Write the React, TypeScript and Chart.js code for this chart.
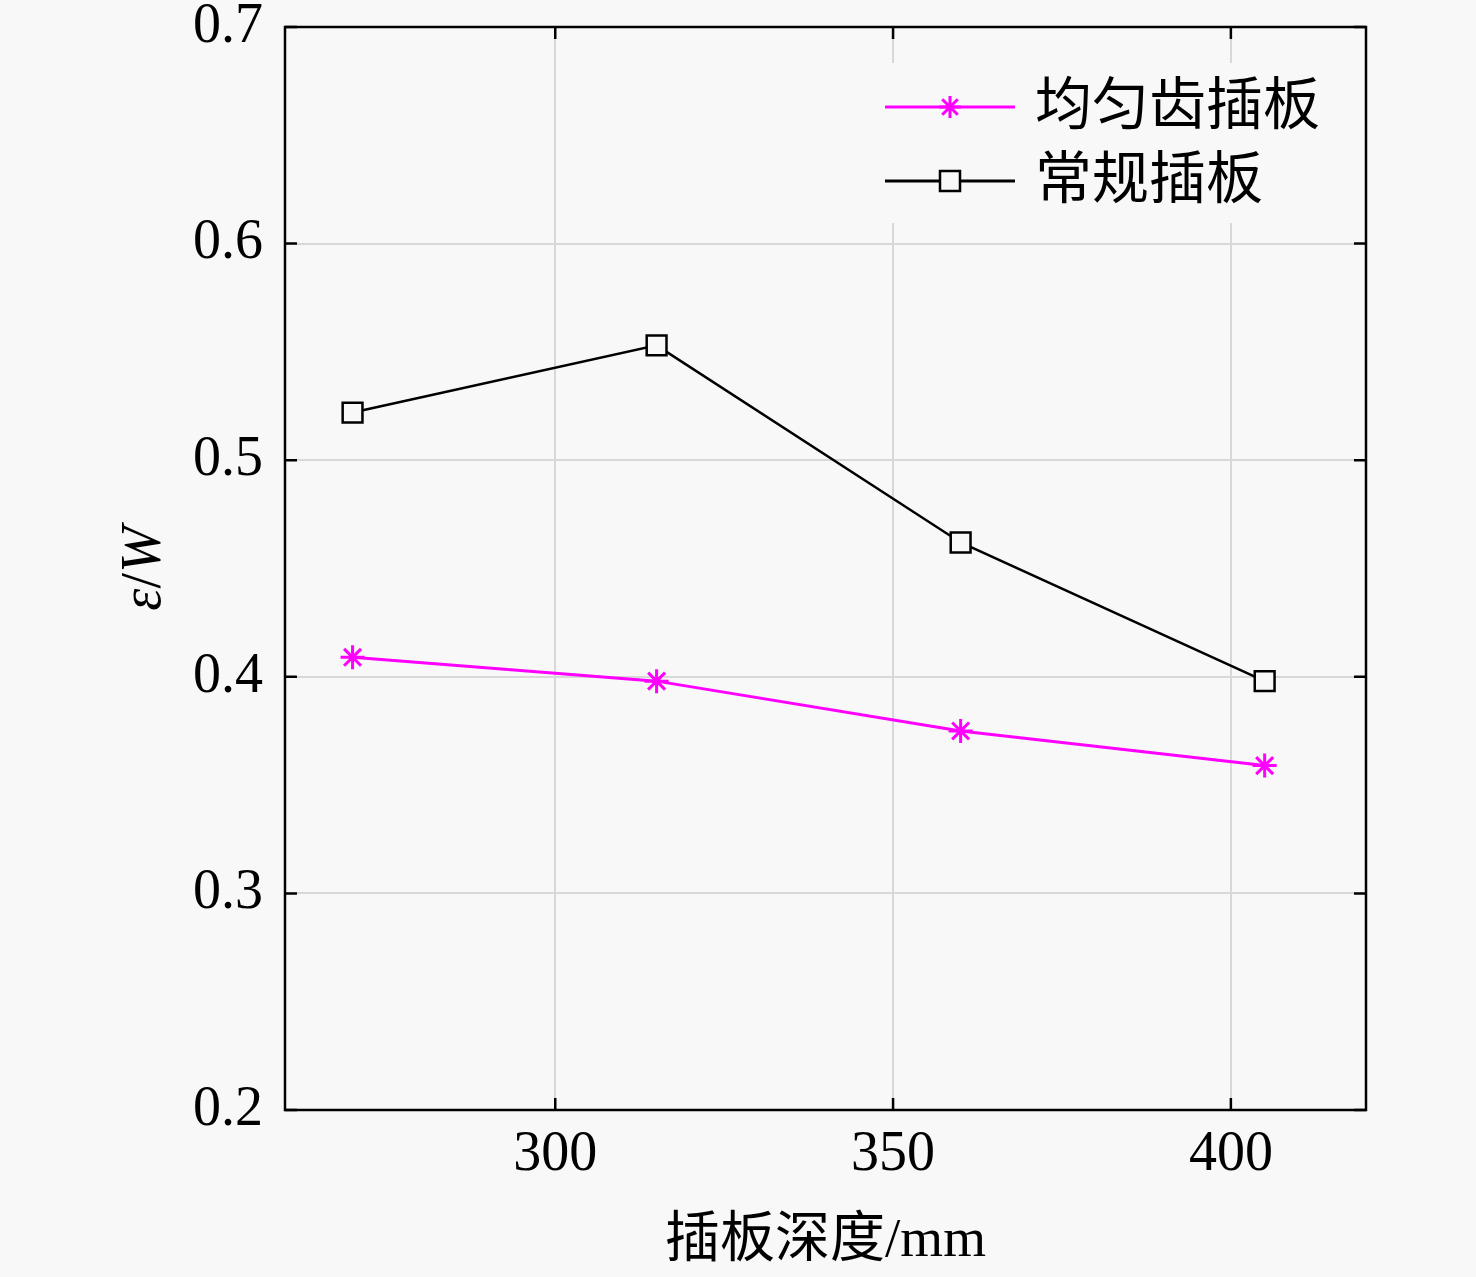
import { useEffect, useRef } from 'react';
import { Chart, registerables } from 'chart.js';

Chart.register(...registerables);

// plate depth (mm) and ε/W for the two plate types
const depths = [270, 315, 360, 405];
const uniformTooth = [0.409, 0.398, 0.375, 0.359];
const regularPlate = [0.522, 0.553, 0.462, 0.398];
const seriesNames = ['均匀齿插板', '常规插板'];
const xTicks = [300, 350, 400];
const yTicks = [0.2, 0.3, 0.4, 0.5, 0.6, 0.7];
const xTitle = '插板深度/mm';

const SERIF = "'Liberation Serif', 'Times New Roman', 'Noto Sans CJK SC', serif";
const BG = '#f8f8f8';

const framePlugin = {
    id: 'frame',
    afterDatasetsDraw(chart: any) {
        const { ctx, chartArea, scales } = chart;
        const { left, right, top, bottom } = chartArea;
        const x = scales.x;
        const y = scales.y;
        ctx.save();

        // legend box (hides grid behind it)
        ctx.fillStyle = BG;
        ctx.fillRect(868, 63, 470, 160);

        // inward ticks
        ctx.strokeStyle = '#000';
        ctx.lineWidth = 2.5;
        ctx.beginPath();
        xTicks.forEach((v) => {
            const px = x.getPixelForValue(v);
            ctx.moveTo(px, bottom);
            ctx.lineTo(px, bottom - 12);
            ctx.moveTo(px, top);
            ctx.lineTo(px, top + 12);
        });
        yTicks.forEach((v) => {
            const py = y.getPixelForValue(v);
            ctx.moveTo(left, py);
            ctx.lineTo(left + 12, py);
            ctx.moveTo(right, py);
            ctx.lineTo(right - 12, py);
        });
        ctx.stroke();
        ctx.lineWidth = 2.5;
        ctx.strokeRect(left, top, right - left, bottom - top);

        // legend
        const rows = [
            { name: seriesNames[0], color: '#ff00ff', style: 'star', yy: 107 },
            { name: seriesNames[1], color: '#000000', style: 'rect', yy: 181 },
        ];
        rows.forEach((r) => {
            ctx.strokeStyle = r.color;
            ctx.lineWidth = 3;
            ctx.beginPath();
            ctx.moveTo(885, r.yy);
            ctx.lineTo(1015, r.yy);
            ctx.stroke();
            if (r.style === 'star') {
                const s = 11;
                ctx.beginPath();
                for (let i = 0; i < 4; i++) {
                    const a = (i * Math.PI) / 4;
                    ctx.moveTo(950 - s * Math.cos(a), r.yy - s * Math.sin(a));
                    ctx.lineTo(950 + s * Math.cos(a), r.yy + s * Math.sin(a));
                }
                ctx.stroke();
            } else {
                ctx.lineWidth = 2.5;
                ctx.fillStyle = BG;
                ctx.fillRect(940, r.yy - 10, 20, 20);
                ctx.strokeRect(940, r.yy - 10, 20, 20);
            }
            ctx.fillStyle = '#000';
            ctx.font = `57px ${SERIF}`;
            ctx.textBaseline = 'middle';
            ctx.textAlign = 'left';
            ctx.fillText(r.name, 1035, r.yy + 2);
        });

        // y title: ε/W with italic letters
        ctx.translate(145, (top + bottom) / 2);
        ctx.rotate(-Math.PI / 2);
        ctx.fillStyle = '#000';
        ctx.textBaseline = 'middle';
        ctx.textAlign = 'left';
        const parts = [
            { t: 'ε', f: `italic 56px ${SERIF}` },
            { t: '/', f: `56px ${SERIF}` },
            { t: 'W', f: `italic 56px ${SERIF}` },
        ];
        let total = 0;
        parts.forEach((p) => {
            ctx.font = p.f;
            total += ctx.measureText(p.t).width;
        });
        let cx = -total / 2;
        parts.forEach((p) => {
            ctx.font = p.f;
            ctx.fillText(p.t, cx, 0);
            cx += ctx.measureText(p.t).width;
        });
        ctx.restore();
    },
};

const DepthChart = () => {
    const canvasRef = useRef<HTMLCanvasElement>(null);

    useEffect(() => {
        const canvas = canvasRef.current;
        if (!canvas) return;
        const ctx = canvas.getContext('2d');
        if (!ctx) return;

        const chart = new Chart(ctx, {
            type: 'line',
            data: {
                datasets: [
                    {
                        label: seriesNames[0],
                        data: depths.map((d, i) => ({ x: d, y: uniformTooth[i] })),
                        borderColor: '#ff00ff',
                        backgroundColor: '#ff00ff',
                        borderWidth: 3,
                        pointStyle: 'star',
                        pointRadius: 12,
                        pointBorderWidth: 3,
                        tension: 0,
                    },
                    {
                        label: seriesNames[1],
                        data: depths.map((d, i) => ({ x: d, y: regularPlate[i] })),
                        borderColor: '#000000',
                        backgroundColor: BG,
                        borderWidth: 2.5,
                        pointStyle: 'rect',
                        pointRadius: 14,
                        pointBorderWidth: 2.5,
                        tension: 0,
                    },
                ],
            },
            options: {
                responsive: false,
                animation: false,
                layout: { padding: { top: 27, right: 110, left: 0, bottom: 0 } },
                plugins: {
                    legend: { display: false },
                    tooltip: { enabled: false },
                },
                scales: {
                    x: {
                        type: 'linear',
                        min: 260,
                        max: 420,
                        afterBuildTicks: (s: any) => {
                            s.ticks = xTicks.map((v) => ({ value: v }));
                        },
                        afterFit: (s: any) => {
                            s.height = 167;
                            s.paddingLeft = 0;
                            s.paddingRight = 0;
                        },
                        grid: { color: '#d8d8d8', lineWidth: 2, drawTicks: false },
                        border: { display: false },
                        ticks: {
                            color: '#000',
                            padding: 12,
                            maxRotation: 0,
                            font: { family: SERIF, size: 56 },
                        },
                        title: {
                            display: true,
                            text: xTitle,
                            color: '#000',
                            font: { family: SERIF, size: 55 },
                            padding: { top: 0, bottom: 2 },
                        },
                    },
                    y: {
                        type: 'linear',
                        min: 0.2,
                        max: 0.7,
                        afterBuildTicks: (s: any) => {
                            s.ticks = yTicks.map((v) => ({ value: v }));
                        },
                        afterFit: (s: any) => {
                            s.width = 285;
                            s.paddingTop = 0;
                            s.paddingBottom = 0;
                        },
                        grid: { color: '#d8d8d8', lineWidth: 2, drawTicks: false },
                        border: { display: false },
                        ticks: {
                            color: '#000',
                            padding: 22,
                            font: { family: SERIF, size: 56 },
                            callback: (v: any) => Number(v).toFixed(1),
                        },
                    },
                },
            },
            plugins: [framePlugin],
        });

        return () => {
            chart.destroy();
        };
    }, []);

    return <canvas ref={canvasRef} width={1476} height={1277} style={{ display: 'block' }} />;
};

export default function App() {
    return (
        <div style={{ position: 'fixed', left: 0, top: 0, width: 1476, height: 1277, background: BG }}>
            <DepthChart />
        </div>
    );
}
